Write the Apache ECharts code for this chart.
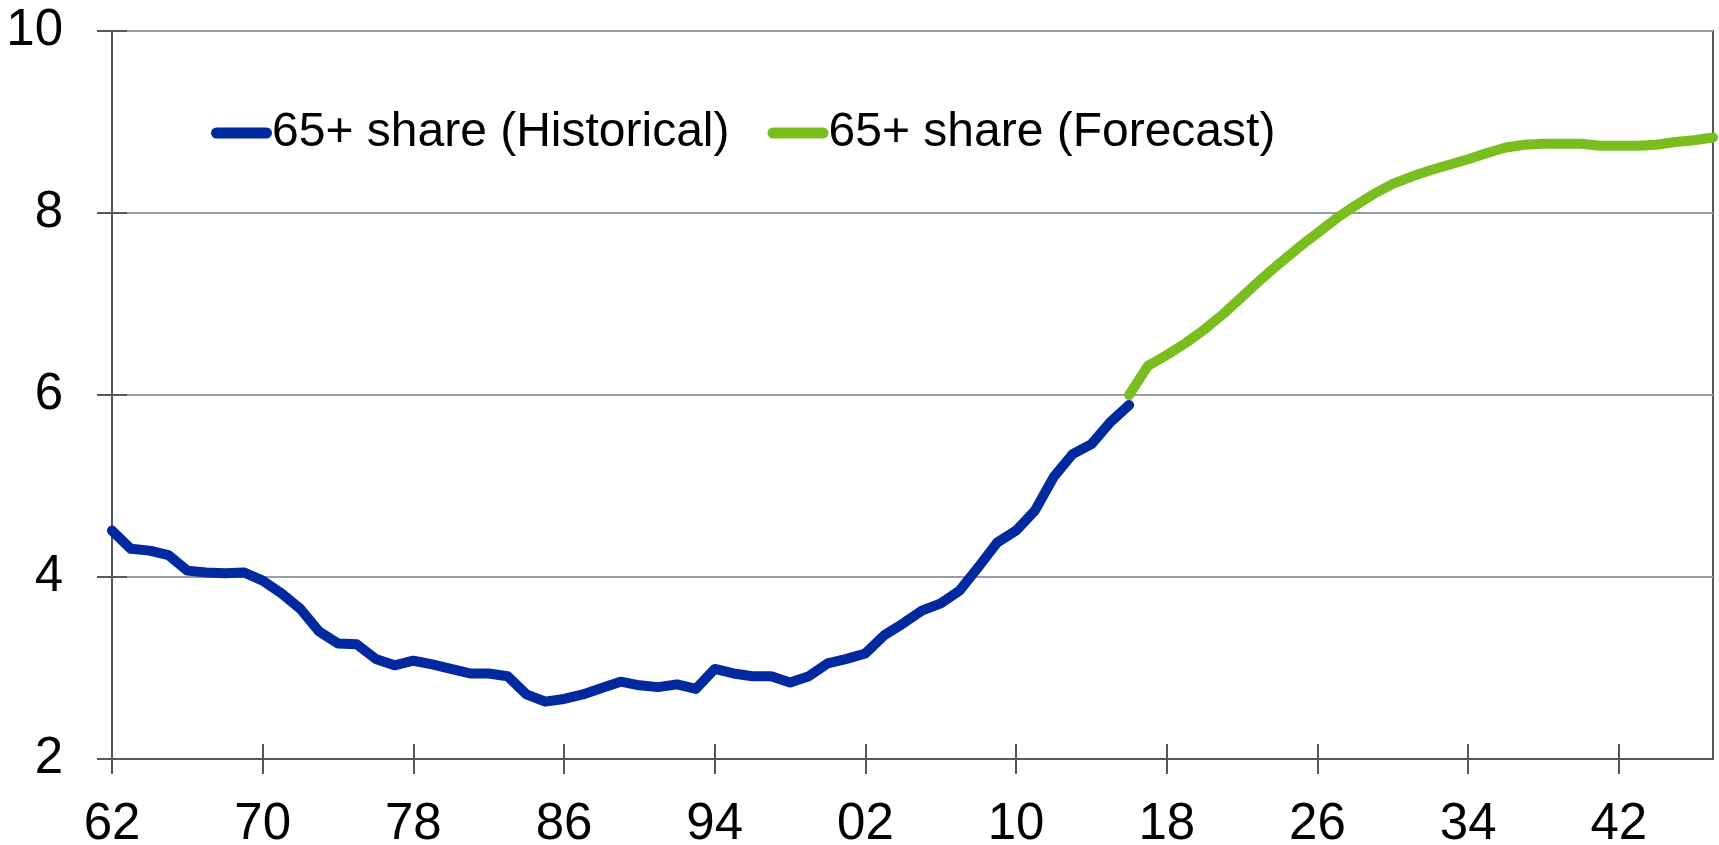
<!DOCTYPE html>
<html>
<head>
<meta charset="utf-8">
<script src="https://cdn.jsdelivr.net/npm/echarts@6/dist/echarts.min.js"></script>
<style>
  html, body { margin: 0; padding: 0; background: #fff; }
  #chart { width: 1719px; height: 845px; }
</style>
</head>
<body>
<div id="chart"></div>
<script>
// years on the x axis (1962 - 2047)
var years = ['1962','1963','1964','1965','1966','1967','1968','1969','1970','1971',
  '1972','1973','1974','1975','1976','1977','1978','1979','1980','1981',
  '1982','1983','1984','1985','1986','1987','1988','1989','1990','1991',
  '1992','1993','1994','1995','1996','1997','1998','1999','2000','2001',
  '2002','2003','2004','2005','2006','2007','2008','2009','2010','2011',
  '2012','2013','2014','2015','2016','2017','2018','2019','2020','2021',
  '2022','2023','2024','2025','2026','2027','2028','2029','2030','2031',
  '2032','2033','2034','2035','2036','2037','2038','2039','2040','2041',
  '2042','2043','2044','2045','2046','2047'];

// 65+ share, historical 1962 - 2016
var historical = [4.51, 4.31, 4.29, 4.24, 4.07, 4.05, 4.04, 4.05, 3.96,
  3.82, 3.65, 3.40, 3.27, 3.26, 3.10, 3.03, 3.08,
  3.04, 2.99, 2.94, 2.94, 2.91, 2.71, 2.63, 2.66,
  2.71, 2.78, 2.85, 2.81, 2.79, 2.82, 2.77, 2.99,
  2.94, 2.91, 2.91, 2.84, 2.91, 3.05, 3.10, 3.16,
  3.36, 3.49, 3.63, 3.71, 3.85, 4.11, 4.38, 4.51,
  4.73, 5.10, 5.35, 5.46, 5.70, 5.89];
var historicalStart = '1962';

// 65+ share, forecast 2016 - 2047
var forecast = [6.00, 6.32, 6.44, 6.57, 6.72, 6.89, 7.08, 7.27, 7.45, 7.62,
  7.78, 7.94, 8.08, 8.21, 8.32, 8.40, 8.47, 8.53, 8.59, 8.66,
  8.72, 8.75, 8.76, 8.76, 8.76, 8.74, 8.74, 8.74, 8.75, 8.78,
  8.80, 8.83];
var forecastStart = '2016';

var yTicks = [2, 4, 6, 8, 10];

// pad a series out to the full year list
function placeOnYears(values, start) {
  var out = years.map(function () { return null; });
  var i0 = years.indexOf(start);
  values.forEach(function (v, i) { out[i0 + i] = v; });
  return out;
}

var axisColor = '#53585e';
var gridColor = '#9a9da1';
var font = '"Liberation Sans", Arial, sans-serif';
// thick line with round ends for the legend
var legendIcon = 'path://M5.5,0H55.5A5.5,5.5,0,0,1,55.5,11H5.5A5.5,5.5,0,0,1,5.5,0Z';

var chart = echarts.init(document.getElementById('chart'));
chart.setOption({
  animation: false,
  textStyle: { fontFamily: font },
  grid: {
    left: 112, right: 6, top: 31, bottom: 86,
    outerBoundsMode: 'none', containLabel: false,
    show: true, borderColor: axisColor, borderWidth: 2
  },
  legend: {
    left: 206, top: 100,
    icon: legendIcon,
    itemWidth: 61, itemHeight: 11, itemGap: 38,
    textStyle: { fontSize: 48, color: '#000', lineHeight: 56, padding: [0, 0, 0, -5] },
    data: ['65+ share (Historical)', '65+ share (Forecast)']
  },
  xAxis: [
    {
      type: 'category',
      data: years,
      boundaryGap: false,
      axisLine: { lineStyle: { color: axisColor, width: 2 } },
      axisTick: { interval: 7, length: 15, lineStyle: { color: axisColor, width: 2 } },
      axisLabel: {
        interval: 7, margin: 40, fontSize: 51, color: '#000',
        formatter: function (v) { return v.slice(2); }
      },
      splitLine: { show: false }
    },
    {
      // second copy only to draw the inner half of the crossing ticks
      type: 'category',
      data: years,
      boundaryGap: false,
      position: 'bottom',
      axisLine: { show: false },
      axisTick: { inside: true, interval: 7, length: 15, lineStyle: { color: axisColor, width: 2 } },
      axisLabel: { show: false },
      splitLine: { show: false }
    }
  ],
  yAxis: [
    {
      type: 'value',
      min: yTicks[0], max: yTicks[yTicks.length - 1], interval: 2,
      axisLine: { show: true, lineStyle: { color: axisColor, width: 2 } },
      axisTick: { show: true, length: 15, lineStyle: { color: axisColor, width: 2 } },
      axisLabel: { margin: 49, fontSize: 51, color: '#000' },
      splitLine: { lineStyle: { color: gridColor, width: 2 } }
    },
    {
      type: 'value',
      position: 'left',
      min: yTicks[0], max: yTicks[yTicks.length - 1], interval: 2,
      axisLine: { show: false },
      axisTick: { show: true, inside: true, length: 15, lineStyle: { color: axisColor, width: 2 } },
      axisLabel: { show: false },
      splitLine: { show: false }
    }
  ],
  series: [
    {
      name: '65+ share (Historical)',
      type: 'line',
      symbol: 'none',
      data: placeOnYears(historical, historicalStart),
      lineStyle: { color: '#0029a0', width: 10, cap: 'round', join: 'round' },
      itemStyle: { color: '#0029a0' }
    },
    {
      name: '65+ share (Forecast)',
      type: 'line',
      symbol: 'none',
      data: placeOnYears(forecast, forecastStart),
      lineStyle: { color: '#7abd1e', width: 10, cap: 'round', join: 'round' },
      itemStyle: { color: '#7abd1e' }
    }
  ]
});
</script>
</body>
</html>
